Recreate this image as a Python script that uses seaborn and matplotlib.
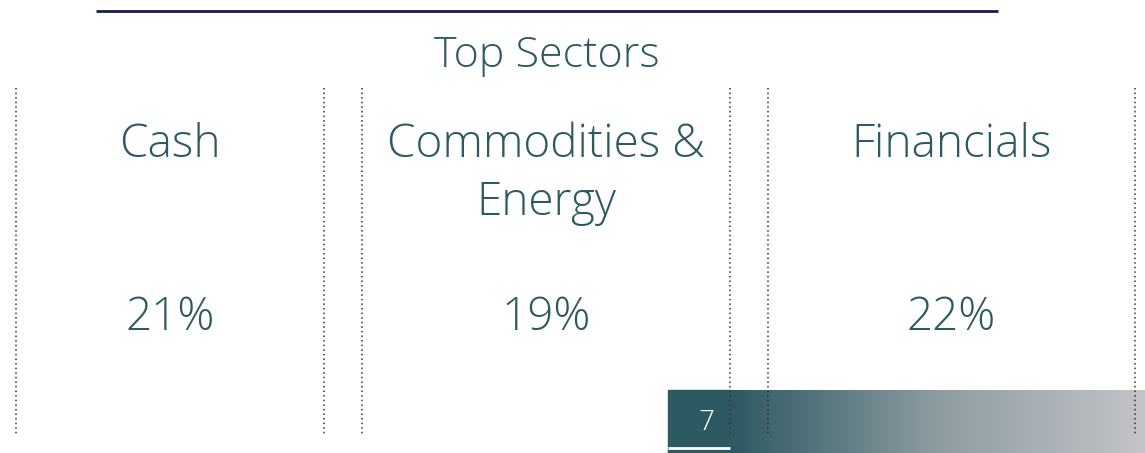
import numpy as np
import matplotlib
matplotlib.use("Agg")
import matplotlib.pyplot as plt
from matplotlib.colors import LinearSegmentedColormap
import seaborn as sns

# slide content
title = "Top Sectors"
sectors = ["Cash", "Commodities &", "Financials"]
sector_second_line = ["", "Energy", ""]
weights = [21, 19, 22]
page_number = "7"

TEAL = "#2d5962"
NAVY = "#1b1d4d"

sns.set_theme(style="white")
plt.rcParams["font.family"] = ["Open Sans", "DejaVu Sans"]

fig = plt.figure(figsize=(11.45, 4.53), dpi=100)
ax = fig.add_axes([0, 0, 1, 1])

# top rule and title
ax.hlines(11, 96, 998, color=NAVY, linewidth=2)
ax.text(547, 56, title, ha="center", va="center", fontsize=31,
        color=TEAL, fontweight="light")

# one panel per sector (left/right dotted borders)
panel_edges = [(16, 324), (362, 730), (768, 1135)]
for (left, right), name, name2, val in zip(panel_edges, sectors,
                                          sector_second_line, weights):
    ax.vlines([left, right], 88, 435, color="#333333", linewidth=1.1,
              linestyles=(0, (1, 2)))
    cx = (left + right) / 2
    ax.text(cx, 145, name, ha="center", va="center", fontsize=33,
            color=TEAL, fontweight="light")
    if name2:
        ax.text(cx, 203, name2, ha="center", va="center", fontsize=33,
                color=TEAL, fontweight="light")
    ax.text(cx, 318, f"{val}%", ha="center", va="center", fontsize=33,
            color=TEAL, fontweight="light")

# footer bar with page number and gradient
ax.add_patch(plt.Rectangle((668, 390), 62, 63, color=TEAL, zorder=0))
grad = LinearSegmentedColormap.from_list("foot", [TEAL, "#8d9ca1", "#c3c4c8"])
ax.imshow(np.linspace(0, 1, 256)[None, :], cmap=grad, aspect="auto",
          extent=(730, 1145, 453, 390), zorder=0)
ax.text(706, 423, page_number, ha="center", va="center", fontsize=20,
        color="white", fontweight="light")
ax.hlines(448, 668, 730, color="white", linewidth=2)

ax.set_xlim(0, 1145)
ax.set_ylim(453, 0)
ax.axis("off")

fig.savefig("out.png", dpi=100)
